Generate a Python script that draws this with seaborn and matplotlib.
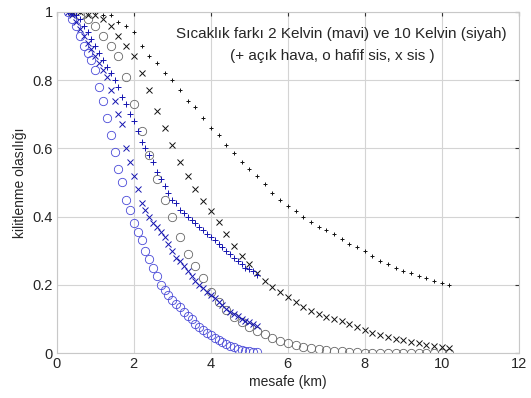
import matplotlib
matplotlib.use('Agg')

import matplotlib.pyplot as plt
import numpy as np
import seaborn as sns

# distances (km): blue runs sampled every 0.1 km, black runs every 0.2 km
x_blue = np.round(np.arange(0.3, 5.25, 0.1), 1)
x_black = np.round(np.arange(0.4, 10.25, 0.2), 1)

# 2 Kelvin (blue)
blue_acik = [
	1.00, 1.00, 0.99, 0.98, 0.96, 0.94, 0.92, 0.90, 0.88, 0.86,
	0.84, 0.82, 0.80, 0.78, 0.75, 0.73, 0.70, 0.68, 0.65, 0.62,
	0.60, 0.58, 0.56, 0.53, 0.51, 0.49, 0.47, 0.45, 0.44, 0.42,
	0.41, 0.40, 0.39, 0.38, 0.37, 0.36, 0.35, 0.34, 0.33, 0.32,
	0.31, 0.30, 0.29, 0.28, 0.27, 0.26, 0.25, 0.245, 0.24, 0.23]
blue_sis = [
	1.00, 0.99, 0.97, 0.95, 0.93, 0.91, 0.89, 0.87, 0.85, 0.83,
	0.81, 0.77, 0.74, 0.70, 0.67, 0.60, 0.56, 0.52, 0.48, 0.44,
	0.42, 0.40, 0.38, 0.37, 0.355, 0.34, 0.32, 0.30, 0.28, 0.27,
	0.255, 0.24, 0.225, 0.21, 0.20, 0.19, 0.18, 0.17, 0.16, 0.15,
	0.14, 0.13, 0.12, 0.115, 0.11, 0.10, 0.095, 0.09, 0.085, 0.08]
blue_hafif = [
	1.00, 0.98, 0.96, 0.93, 0.90, 0.88, 0.86, 0.83, 0.78, 0.74,
	0.69, 0.64, 0.59, 0.54, 0.50, 0.45, 0.42, 0.38, 0.355, 0.33,
	0.30, 0.275, 0.25, 0.225, 0.20, 0.185, 0.17, 0.155, 0.145, 0.135,
	0.12, 0.11, 0.10, 0.085, 0.076, 0.068, 0.06, 0.052, 0.045, 0.038,
	0.032, 0.026, 0.021, 0.017, 0.013, 0.01, 0.007, 0.005, 0.003, 0.002]

# 10 Kelvin (black)
black_acik = [
	1.00, 1.00, 1.00, 1.00, 0.99, 0.99, 0.97, 0.96, 0.94, 0.90,
	0.87, 0.85, 0.82, 0.80, 0.77, 0.74, 0.72, 0.69, 0.66, 0.64,
	0.61, 0.585, 0.56, 0.54, 0.52, 0.495, 0.47, 0.45, 0.43, 0.415,
	0.40, 0.385, 0.37, 0.36, 0.35, 0.335, 0.32, 0.31, 0.30, 0.285,
	0.27, 0.26, 0.25, 0.24, 0.235, 0.225, 0.22, 0.21, 0.205, 0.20]
black_sis = [
	1.00, 1.00, 0.99, 0.99, 0.98, 0.96, 0.93, 0.90, 0.87, 0.82,
	0.77, 0.71, 0.66, 0.61, 0.56, 0.52, 0.48, 0.445, 0.415, 0.385,
	0.35, 0.315, 0.285, 0.26, 0.235, 0.21, 0.195, 0.18, 0.165, 0.15,
	0.135, 0.123, 0.115, 0.107, 0.10, 0.093, 0.085, 0.075, 0.067, 0.06,
	0.053, 0.047, 0.042, 0.037, 0.032, 0.028, 0.024, 0.021, 0.018, 0.015]
black_hafif = [
	1.00, 0.99, 0.98, 0.96, 0.93, 0.90, 0.87, 0.81, 0.73, 0.65,
	0.58, 0.51, 0.45, 0.40, 0.34, 0.29, 0.255, 0.22, 0.18, 0.15,
	0.125, 0.105, 0.09, 0.075, 0.065, 0.055, 0.045, 0.035, 0.028, 0.023,
	0.019, 0.016, 0.013, 0.01, 0.007, 0.005, 0.003, 0.002, 0.001, 0.0,
	0.0, 0.0, 0.0, 0.0, 0.0, 0.0, 0.0, 0.0, 0.0, 0.0]

title_lines = [
	'Sıcaklık farkı 2 Kelvin (mavi) ve 10 Kelvin (siyah)',
	'(+ açık hava, o hafif sis, x sis )']
x_ticks = [0, 2, 4, 6, 8, 10, 12]
y_ticks = [0, 0.2, 0.4, 0.6, 0.8, 1]
y_ticklabels = ['0', '0.2', '0.4', '0.6', '0.8', '1']


sns.set_style('white')
plt.rcParams['font.family'] = ['Liberation Sans', 'DejaVu Sans']

fig = plt.figure(figsize=(5.31, 3.98), dpi=100)
ax = fig.add_axes([0.107, 0.113, 0.870, 0.857])

# (x, y, marker, color, size, edge width, hollow)
series = [
	(x_black, black_hafif, 'o', '#666666', 6.0, 0.6, True),
	(x_black, black_sis, 'x', '#111111', 4.0, 0.7, False),
	(x_black, black_acik, '+', '#111111', 3.5, 0.7, False),
	(x_blue, blue_hafif, 'o', '#4a4ad8', 6.0, 0.6, True),
	(x_blue, blue_sis, 'x', '#1515b0', 4.0, 0.7, False),
	(x_blue, blue_acik, '+', '#1515b0', 4.0, 0.7, False),
]

for xs, ys, marker, color, ms, mew, hollow in series:
	sns.lineplot(
		x=xs, y=ys, ax=ax, marker=marker, linestyle='',
		color=color, mec=color, mfc='none' if hollow else color,
		ms=ms, mew=mew, errorbar=None, sort=False)

ax.set_xlim(0, 12)
ax.set_ylim(0, 1)
ax.set_xticks(x_ticks)
ax.set_yticks(y_ticks)
ax.set_yticklabels(y_ticklabels)
ax.grid(True, color='#d4d4d4', linewidth=0.8)
ax.set_axisbelow(True)

for spine in ax.spines.values():
	spine.set_color('#c8c8c8')
	spine.set_linewidth(0.8)

ax.tick_params(direction='in', length=3, width=0.8, color='#333333',
	top=True, right=True, labelsize=10.5, pad=3)

ax.set_xlabel('mesafe (km)', fontsize=10, labelpad=3)
ax.set_ylabel('kilitlenme olasılığı', fontsize=10, labelpad=4)

ax.text(0.615, 0.936, title_lines[0], transform=ax.transAxes,
	ha='center', va='center', fontsize=11)
ax.text(0.597, 0.872, title_lines[1], transform=ax.transAxes,
	ha='center', va='center', fontsize=11)

fig.savefig('out.png', dpi=100)
plt.close(fig)
